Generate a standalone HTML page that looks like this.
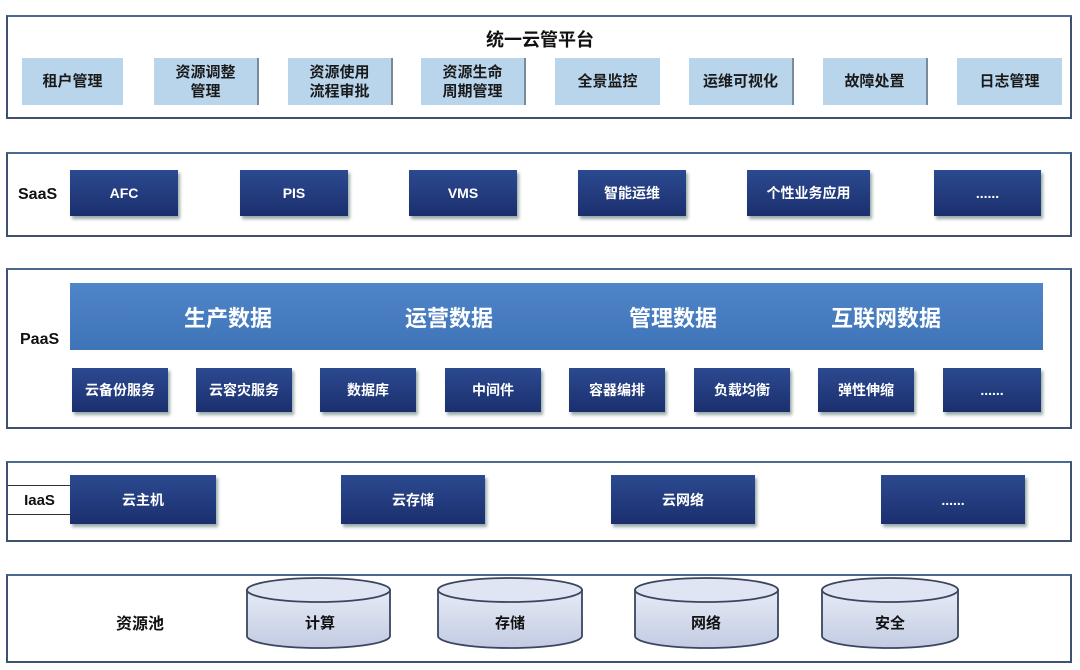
<!DOCTYPE html>
<html><head><meta charset="utf-8"><style>
*{margin:0;padding:0;box-sizing:border-box}
body{width:1080px;height:670px;background:#fff;position:relative;overflow:hidden;font-family:"Liberation Sans","Noto Sans CJK SC",sans-serif;font-weight:bold}
.p{position:absolute;border:2px solid #3e5270;border-top-color:#4a6a90;background:#fff}
.a{position:absolute;display:flex;align-items:center;justify-content:center;text-align:center}
.lb{background:#b9d5ec;color:#1a1a1a;font-size:15px;line-height:19px;border-right:2px solid #7a8a9a}
.dk{background:linear-gradient(#2c4a90,#1b2f6e);color:#fff;font-size:14px;box-shadow:2px 3px 3px #9aa}
.t{position:absolute;color:#111;font-size:15px}
</style></head><body>
<div class="p" style="left:6px;top:15px;width:1066px;height:104px"></div>
<div class="t" style="left:0;width:1080px;top:26px;text-align:center;font-size:18px">统一云管平台</div>
<div class="a lb" style="left:22px;top:58px;width:101px;height:47px;border-right:none">租户管理</div>
<div class="a lb" style="left:154px;top:58px;width:105px;height:47px">资源调整<br>管理</div>
<div class="a lb" style="left:288px;top:58px;width:105px;height:47px">资源使用<br>流程审批</div>
<div class="a lb" style="left:421px;top:58px;width:105px;height:47px">资源生命<br>周期管理</div>
<div class="a lb" style="left:555px;top:58px;width:105px;height:47px;border-right:none">全景监控</div>
<div class="a lb" style="left:689px;top:58px;width:105px;height:47px">运维可视化</div>
<div class="a lb" style="left:823px;top:58px;width:105px;height:47px">故障处置</div>
<div class="a lb" style="left:957px;top:58px;width:105px;height:47px;border-right:none">日志管理</div>

<div class="p" style="left:6px;top:152px;width:1066px;height:85px"></div>
<div class="t" style="left:18px;top:186px;font-size:16px">SaaS</div>
<div class="a dk" style="left:70px;top:170px;width:108px;height:46px">AFC</div>
<div class="a dk" style="left:240px;top:170px;width:108px;height:46px">PIS</div>
<div class="a dk" style="left:409px;top:170px;width:108px;height:46px">VMS</div>
<div class="a dk" style="left:578px;top:170px;width:108px;height:46px">智能运维</div>
<div class="a dk" style="left:747px;top:170px;width:123px;height:46px">个性业务应用</div>
<div class="a dk" style="left:934px;top:170px;width:107px;height:46px">......</div>

<div class="p" style="left:6px;top:268px;width:1066px;height:161px"></div>
<div class="t" style="left:20px;top:331px;font-size:16px">PaaS</div>
<div style="position:absolute;left:70px;top:283px;width:973px;height:67px;background:linear-gradient(#4f86c8,#3f74b8)"></div>
<div class="a" style="left:148px;top:283px;width:160px;height:67px;color:#fff;font-size:22px">生产数据</div>
<div class="a" style="left:369px;top:283px;width:160px;height:67px;color:#fff;font-size:22px">运营数据</div>
<div class="a" style="left:593px;top:283px;width:160px;height:67px;color:#fff;font-size:22px">管理数据</div>
<div class="a" style="left:806px;top:283px;width:160px;height:67px;color:#fff;font-size:22px">互联网数据</div>
<div class="a dk" style="left:72px;top:368px;width:96px;height:44px">云备份服务</div>
<div class="a dk" style="left:196px;top:368px;width:96px;height:44px">云容灾服务</div>
<div class="a dk" style="left:320px;top:368px;width:96px;height:44px">数据库</div>
<div class="a dk" style="left:445px;top:368px;width:96px;height:44px">中间件</div>
<div class="a dk" style="left:569px;top:368px;width:96px;height:44px">容器编排</div>
<div class="a dk" style="left:694px;top:368px;width:96px;height:44px">负载均衡</div>
<div class="a dk" style="left:818px;top:368px;width:96px;height:44px">弹性伸缩</div>
<div class="a dk" style="left:943px;top:368px;width:98px;height:44px">......</div>

<div class="p" style="left:6px;top:461px;width:1066px;height:81px"></div>
<div class="a" style="left:8px;top:485px;width:64px;height:30px;border:1px solid #333;border-left:none;font-size:15px;color:#111">IaaS</div>
<div class="a dk" style="left:70px;top:475px;width:146px;height:49px">云主机</div>
<div class="a dk" style="left:341px;top:475px;width:144px;height:49px">云存储</div>
<div class="a dk" style="left:611px;top:475px;width:144px;height:49px">云网络</div>
<div class="a dk" style="left:881px;top:475px;width:144px;height:49px">......</div>

<div class="p" style="left:6px;top:574px;width:1066px;height:89px"></div>
<div class="t" style="left:116px;top:610px;font-size:16px">资源池</div>
<svg style="position:absolute;left:0;top:0" width="1080" height="670">
<defs><linearGradient id="g" x1="0" y1="0" x2="0" y2="1"><stop offset="0" stop-color="#e6ebf5"/><stop offset="1" stop-color="#c2cbe2"/></linearGradient></defs>
<g stroke="#3a4560" stroke-width="1.8" fill="url(#g)">
<path d="M247,590 v46 a71.5,12 0 0 0 143,0 v-46 z"/><ellipse cx="318.5" cy="590" rx="71.5" ry="12" fill="#dfe5f2"/>
<path d="M438,590 v46 a72,12 0 0 0 144,0 v-46 z"/><ellipse cx="510" cy="590" rx="72" ry="12" fill="#dfe5f2"/>
<path d="M635,590 v46 a71.5,12 0 0 0 143,0 v-46 z"/><ellipse cx="706.5" cy="590" rx="71.5" ry="12" fill="#dfe5f2"/>
<path d="M822,590 v46 a68,12 0 0 0 136,0 v-46 z"/><ellipse cx="890" cy="590" rx="68" ry="12" fill="#dfe5f2"/>
</g>
<g font-family="Liberation Sans,Noto Sans CJK SC,sans-serif" font-weight="bold" font-size="15" fill="#111" text-anchor="middle">
<text x="320" y="628">计算</text><text x="510" y="628">存储</text><text x="706" y="628">网络</text><text x="890" y="628">安全</text>
</g>
</svg>
</body></html>
